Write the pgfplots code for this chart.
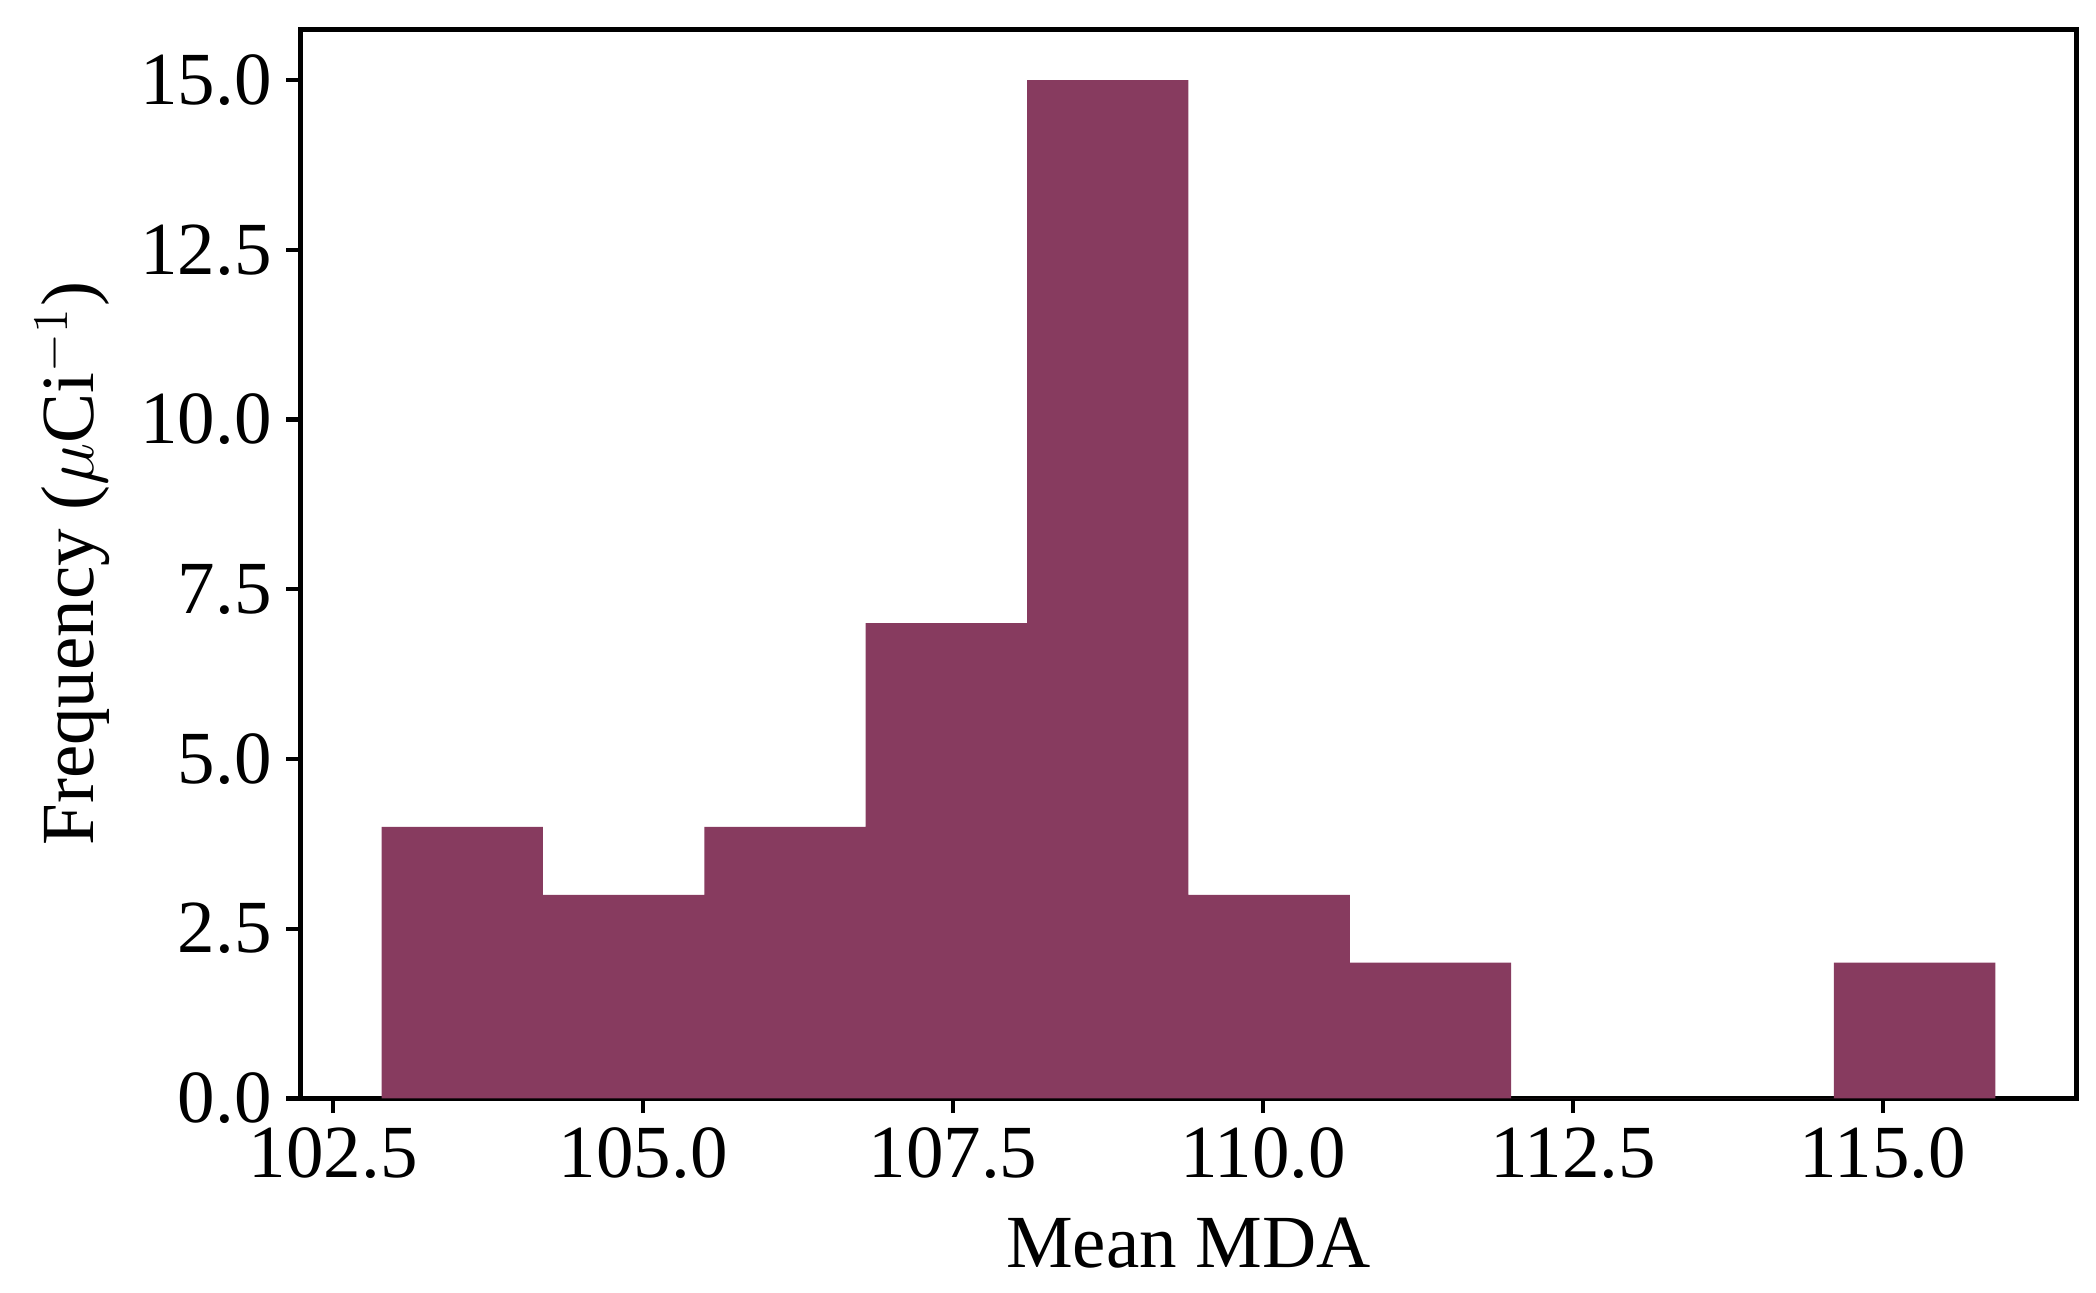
\documentclass[border=0pt]{standalone}
\usepackage{fontspec}
\setmainfont{Liberation Serif}
\usepackage{pgfplots}
\pgfplotsset{compat=1.18}
\usetikzlibrary{calc}
\definecolor{barc}{HTML}{873B5F}
\begin{document}
\begin{tikzpicture}
\begin{axis}[
  scale only axis,
  width=426bp, height=256.6bp,
  xmin=102.239, xmax=116.557,
  ymin=0, ymax=15.75,
  xtick={102.5,105,107.5,110,112.5,115},
  ytick={0,2.5,5,7.5,10,12.5,15},
  xtick pos=bottom, ytick pos=left,
  tick align=outside,
  major tick length=3.5bp,
  every tick/.style={black, line width=1bp},
  axis line style={line width=1.2bp},
  /pgf/number format/assume math mode=true,
  /pgf/number format/.cd, fixed, fixed zerofill, precision=1, /pgfplots/.cd,
  ticklabel style={font=\fontsize{18bp}{21bp}\selectfont},
  label style={font=\fontsize{18bp}{21bp}\selectfont},
  xlabel style={yshift=-2.5bp},
  ylabel style={yshift=0.5bp},
  xlabel={Mean MDA},
  ylabel={Frequency ($\mu$Ci$^{-1}$)},
  scaled ticks=false,
]
\addplot[ybar interval, fill=barc, draw=none] coordinates {
(102.890,4) (104.192,3) (105.493,4) (106.795,7) (108.096,15) (109.398,3)
(110.700,2) (112.001,0) (113.303,0) (114.604,2) (115.906,2)};
\end{axis}
\pgfresetboundingbox
\path ($(current axis.south west)+(-72.2bp,-46.6bp)$) rectangle ($(current axis.north east)+(4.8bp,7bp)$);
\end{tikzpicture}
\end{document}
